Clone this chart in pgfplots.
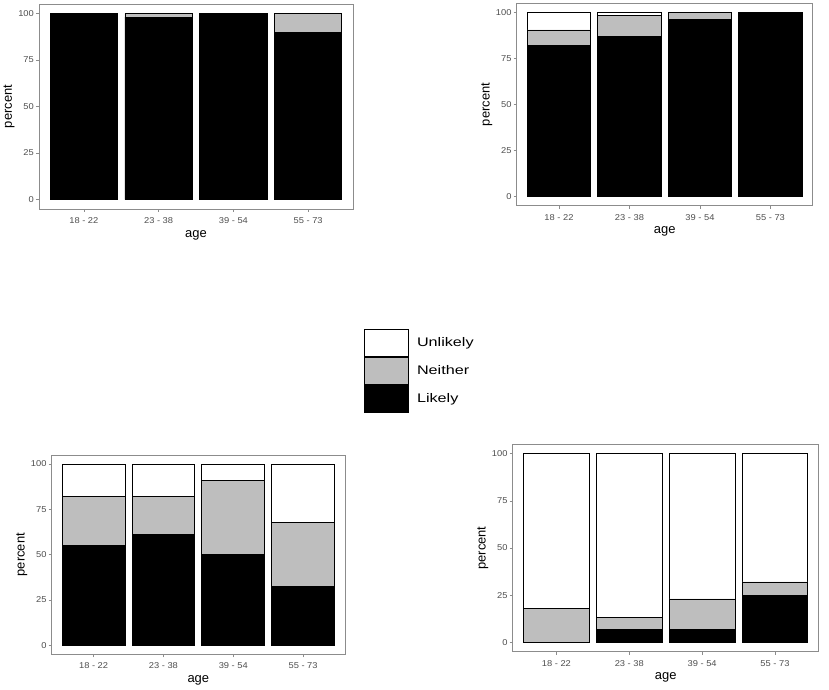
\documentclass[border=0pt]{standalone}
\usepackage{pgfplots}
\pgfplotsset{compat=1.18}
\usetikzlibrary{calc}
\usepackage{fontspec}
\setmainfont{Liberation Sans}
\newfontfamily\tickfont[FakeStretch=1.1]{Liberation Sans}
\newfontfamily\legfont[FakeStretch=1.3]{Liberation Sans}
\definecolor{neither}{RGB}{190,190,190}
\definecolor{frame}{RGB}{140,140,140}
\definecolor{ticktext}{RGB}{77,77,77}
\pgfplotsset{
  panel/.style={
    scale only axis,
    anchor=south west,
    ybar stacked,
    bar width=0.9,
    xmin=0.4, xmax=4.6,
    ymin=-5, ymax=105,
    xtick={1,2,3,4},
    xticklabels={18 - 22, 23 - 38, 39 - 54, 55 - 73},
    ytick={0,25,50,75,100},
    /pgf/number format/assume math mode=true,
    tick align=outside,
    xtick pos=bottom, ytick pos=left,
    major tick length=3bp,
    tick style={draw=frame, line width=0.6bp},
    axis line style={draw=frame, line width=0.9bp},
    ticklabel style={font=\tickfont\fontsize{8.5}{10}\selectfont, text=ticktext, inner sep=1bp},
    xticklabel style={yshift=-4.5bp},
    yticklabel style={xshift=-1bp},
    xlabel=age, ylabel=percent,
    every axis x label/.style={at={($(axis description cs:0.5,0)+(0,-26bp)$)}, anchor=center,
      font=\fontsize{13}{15}\selectfont},
    every axis y label/.style={at={($(axis description cs:0,0.5)+(-30bp,0)$)}, anchor=center, rotate=90,
      font=\fontsize{13}{15}\selectfont},
    legend image code/.code={\draw[#1] (0bp,-13.5bp) rectangle (44bp,13.5bp);},
    clip=false,
  },
  lik/.style={fill=black, draw=black, line width=0.8bp},
  nei/.style={fill=neither, draw=black, line width=0.8bp},
  unl/.style={fill=white, draw=black, line width=0.8bp},
}
\begin{document}
\begin{tikzpicture}
\useasboundingbox (0,0) rectangle (829bp,690bp);
% top left
\begin{axis}[panel, at={(39bp,481bp)}, width=314bp, height=205bp]
\addplot[lik] coordinates {(1,100) (2,98) (3,100) (4,89.5)};
\addplot[nei] coordinates {(1,0) (2,2) (3,0) (4,10.5)};
\addplot[unl] coordinates {(1,0) (2,0) (3,0) (4,0)};
\end{axis}
% top right
\begin{axis}[panel, at={(516.7bp,484.3bp)}, width=296bp, height=202.4bp]
\addplot[lik] coordinates {(1,82) (2,87) (3,96) (4,100)};
\addplot[nei] coordinates {(1,8.5) (2,11.5) (3,4) (4,0)};
\addplot[unl] coordinates {(1,9.5) (2,1.5) (3,0) (4,0)};
\end{axis}
% bottom left (with legend)
\begin{axis}[panel, at={(51.7bp,35.7bp)}, width=293.3bp, height=199.3bp,
  reverse legend,
  legend cell align=left,
  legend style={at={(1.0648,1.632)}, anchor=north west, draw=none, fill=none,
    font=\legfont\fontsize{12.5}{14}\selectfont, row sep=0bp, inner sep=0bp,
    nodes={inner xsep=8bp, inner ysep=3bp}}]
\addplot[lik] coordinates {(1,55) (2,61) (3,50) (4,32.5)};
\addlegendentry{Likely}
\addplot[nei] coordinates {(1,27) (2,21) (3,41) (4,35.5)};
\addlegendentry{Neither}
\addplot[unl] coordinates {(1,18) (2,18) (3,9) (4,32)};
\addlegendentry{Unlikely}
\end{axis}
% bottom right
\begin{axis}[panel, at={(512.7bp,38.3bp)}, width=306bp, height=207.4bp]
\addplot[lik] coordinates {(1,0) (2,7) (3,7) (4,25)};
\addplot[nei] coordinates {(1,18) (2,6) (3,16) (4,7)};
\addplot[unl] coordinates {(1,82) (2,87) (3,77) (4,68)};
\end{axis}
\end{tikzpicture}
\end{document}
